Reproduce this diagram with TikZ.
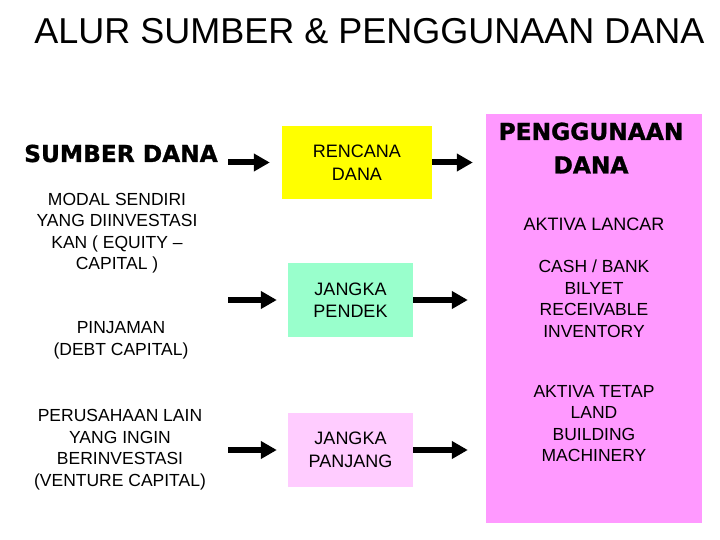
\documentclass[tikz,border=0pt]{standalone}
\usepackage{fontspec}
\setmainfont{Liberation Sans}
\newfontfamily\tebal{DejaVu Sans}[BoldFeatures={FakeBold=1.2}]
\usetikzlibrary{arrows.meta}
\definecolor{kuning}{HTML}{FFFF00}
\definecolor{hijau}{HTML}{99FFCC}
\definecolor{merahmuda}{HTML}{FFCCFF}
\definecolor{ungu}{HTML}{FF99FF}
\tikzset{
  teks/.style={align=center,inner sep=0pt,font=\fontsize{17.5}{21.5}\selectfont},
  tebaltks/.style={align=center,inner sep=0pt,font=\tebal\bfseries\fontsize{23.3}{33.5}\selectfont},
  kotak/.style={teks,font=\fontsize{18}{22.5}\selectfont,minimum width=125pt,minimum height=74pt},
  panah/.style={line width=6pt,-{Triangle[length=16pt,width=17pt]}}
}
\begin{document}
\begin{tikzpicture}[x=1pt,y=-1pt]
\useasboundingbox (0,0) rectangle (720,540);
\node(judul) at (369.5,31.5)[inner sep=0pt,font=\fontsize{36}{40}\selectfont] {ALUR SUMBER \& PENGGUNAAN DANA};

% kotak tengah dan kanan
\node(rencana) at (357,162.5)[kotak,fill=kuning,minimum width=150pt,minimum height=73pt] {RENCANA\\DANA};
\node(pendek)  at (350.5,300)[kotak,fill=hijau]     {JANGKA\\PENDEK};
\node(panjang) at (350.5,450)[kotak,fill=merahmuda] {JANGKA\\PANJANG};
\node(pakai)   at (594,318.5)[fill=ungu,minimum width=216pt,minimum height=409pt,inner sep=0pt] {};

% sumber dana
\node(sumber) at (121,153.5)[tebaltks] {SUMBER DANA};
\node(modal)  at (117,233)[teks]   {MODAL SENDIRI\\YANG DIINVESTASI\\KAN ( EQUITY --\\CAPITAL )};
\node(pinjam) at (121,340.5)[teks] {PINJAMAN\\(DEBT CAPITAL)};
\node(venture) at (120,449.5)[teks] {PERUSAHAAN LAIN\\YANG INGIN\\BERINVESTASI\\(VENTURE CAPITAL)};

% penggunaan dana
\node(guna)    at (591,148)[tebaltks]  {PENGGUNAAN\\DANA};
\node(lancar)  at (594,224)[teks,font=\fontsize{18}{21.5}\selectfont]   {AKTIVA LANCAR};
\node(kas)     at (594,298.5)[teks] {CASH / BANK\\BILYET\\RECEIVABLE\\INVENTORY};
\node(tetap)   at (594,423.5)[teks] {AKTIVA TETAP\\LAND\\BUILDING\\MACHINERY};

\coordinate(m1) at (228,162.5);
\coordinate(m2) at (228,300);
\coordinate(m3) at (228,450);
\path [panah]
  (m1)      edge [shorten >=12pt]  (rencana)
  (m2)      edge [shorten >=11pt]  (pendek)
  (m3)      edge [shorten >=11pt]  (panjang)
  (rencana) edge [shorten >=13pt]  (rencana -| pakai.west)
  (pendek)  edge [shorten >=18pt]  (pendek -| pakai.west)
  (panjang) edge [shorten >=18pt]  (panjang -| pakai.west);

\end{tikzpicture}
\end{document}
